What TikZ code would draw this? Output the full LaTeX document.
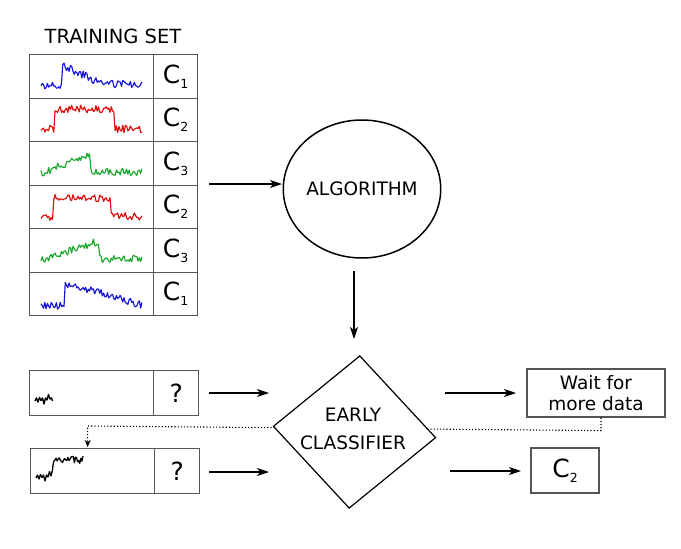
\documentclass[tikz,border=0pt]{standalone}
\usepackage{fontspec}
\setmainfont{DejaVu Sans}
\usetikzlibrary{shapes.geometric,arrows.meta}
\definecolor{boxgrey}{HTML}{555555}
\definecolor{sigblue}{HTML}{1414D8}
\definecolor{sigred}{HTML}{E00A0A}
\definecolor{siggreen}{HTML}{1AA82A}
\begin{document}
\begin{tikzpicture}[x=1pt,y=-1pt,
  cell/.style={draw=boxgrey, line width=1.3pt, inner sep=0pt, anchor=north west, minimum height=43.5pt},
  sigcell/.style={cell, minimum width=124pt},
  labcell/.style={cell, minimum width=44pt, font=\fontsize{25}{25}\selectfont},
  qlab/.style={cell, minimum width=45pt, minimum height=45pt, font=\fontsize{25}{25}\selectfont},
  qsig/.style={cell, minimum width=124pt, minimum height=45pt},
  sig/.style={line width=1.15pt, line join=round},
  arr/.style={line width=1.2pt, -{Stealth[length=12pt,width=8pt,inset=3pt]}},
  lbl/.style={font=\fontsize{18.5}{28}\selectfont, align=center},
  outbox/.style={draw=boxgrey, line width=1.2pt, inner sep=0pt, minimum height=48pt, align=center},
]
\useasboundingbox (0,0) rectangle (681,549);
\pgfmathsetseed{7}
\newcommand{\lab}[1]{C\raisebox{-5pt}{\fontsize{12.5}{12.5}\selectfont #1}}

% title
\node[font=\fontsize{19.5}{20}\selectfont] (title) at (113,36) {TRAINING SET};

% training set table
\node[sigcell] (s1) at (29,54) {};    \node[labcell] (c1) at (153,54) {\lab{1}};
\node[sigcell] (s2) at (29,97.5) {};  \node[labcell] (c2) at (153,97.5) {\lab{2}};
\node[sigcell] (s3) at (29,141) {};   \node[labcell] (c3) at (153,141) {\lab{3}};
\node[sigcell] (s4) at (29,184.5) {}; \node[labcell] (c4) at (153,184.5) {\lab{2}};
\node[sigcell] (s5) at (29,228) {};   \node[labcell] (c5) at (153,228) {\lab{3}};
\node[sigcell] (s6) at (29,271.5) {}; \node[labcell] (c6) at (153,271.5) {\lab{1}};

% signals
\draw[sig, sigblue] plot[domain=0:1, samples=80, variable=\t]
  ({41+101*\t}, {((\t<0.21) ? 85 : (65+19*min((\t-0.21)/0.4,1))) + 3.8*rand});
\draw[sig, sigred] plot[domain=0:1, samples=80, variable=\t]
  ({41+101*\t}, {((\t<0.13) ? 129 : ((\t<0.725) ? 109 : 129)) + 3.8*rand});
\draw[sig, siggreen] plot[domain=0:1, samples=80, variable=\t]
  ({41+101*\t}, {((\t<0.49) ? (174-21*\t/0.49) : 172) + 3.8*rand});
\draw[sig, sigred] plot[domain=0:1, samples=80, variable=\t]
  ({41+101*\t}, {((\t<0.12) ? 217 : ((\t<0.69) ? 198 : 216)) + 3.8*rand});
\draw[sig, siggreen] plot[domain=0:1, samples=80, variable=\t]
  ({41+101*\t}, {((\t<0.57) ? (261-20*\t/0.57) : 259) + 3.8*rand});
\draw[sig, sigblue] plot[domain=0:1, samples=80, variable=\t]
  ({41+101*\t}, {((\t<0.235) ? 306 : (283+22*(\t-0.235)/0.765)) + 3.8*rand});

% algorithm
\node[ellipse, draw, line width=1.5pt, minimum width=150pt, minimum height=138pt, inner sep=0pt, font=\fontsize{18.5}{18.5}\selectfont] (alg) at (362,189) {ALGORITHM};

% query rows
\node[qsig] (q1s) at (29,370) {};  \node[qlab] (q1l) at (153,370) {?};
\node[qsig] (q2s) at (30,448) {};  \node[qlab] (q2l) at (154,448) {?};
\draw[sig, black, line width=1.4pt] plot coordinates {(35,401) (36.5,398) (38,402) (39.5,397.5) (41,400.5) (42.5,398) (44,404) (45.5,398) (47,400) (48.5,394.5) (50,399) (51.5,398) (52.5,401)};
\draw[sig, black, line width=1.3pt] plot coordinates {(36,478) (37.5,475) (39,479) (40.5,474.5) (42,477.5) (43.5,475) (45,481) (46.5,475) (48,477) (49.5,471.5) (51,476) (52.5,470) (53,465) (54,461)}
  -- plot[domain=55:83, samples=27] (\x, {459+4.5*rand});

% output boxes
\node[outbox, minimum width=138pt, font=\fontsize{18.5}{21}\selectfont] (wait) at (596,393) {Wait for\\more data};
\node[outbox, minimum width=68pt, minimum height=45pt, font=\fontsize{25}{25}\selectfont] (out) at (565,470.5) {\lab{2}};

% dotted feedback
\draw[line width=1.1pt, dash pattern=on 1.2pt off 2pt, -{Stealth[length=7pt,width=6pt,inset=2pt]}]
  ([xshift=5pt]wait.south) -- ++(0,13) -- ([xshift=-5pt,yshift=22pt]q2s.north) -- ([xshift=-5pt,yshift=1pt]q2s.north);

% early classifier
\node[diamond, draw, line width=1.2pt, fill=white, minimum width=163pt, minimum height=153pt, inner sep=0pt, rotate=-4] (ec) at (354.5,432) {};
\node[lbl] (ectext) at (353,429) {EARLY\\CLASSIFIER};

% arrows
\coordinate (a1s) at (209,184); \coordinate (a1e) at (282,184);
\coordinate (a2s) at (354,271); \coordinate (a2e) at (354,339);
\coordinate (a3s) at (209,393); \coordinate (a3e) at (269,393);
\coordinate (a4s) at (209,472); \coordinate (a4e) at (269,472);
\coordinate (a5s) at (445,393); \coordinate (a5e) at (516,393);
\coordinate (a6s) at (450,471); \coordinate (a6e) at (521,471);
\draw[arr] (a1s) -- (a1e);
\draw[arr] (a2s) -- (a2e);
\draw[arr] (a3s) -- (a3e);
\draw[arr] (a4s) -- (a4e);
\draw[arr] (a5s) -- (a5e);
\draw[arr] (a6s) -- (a6e);
\end{tikzpicture}
\end{document}
